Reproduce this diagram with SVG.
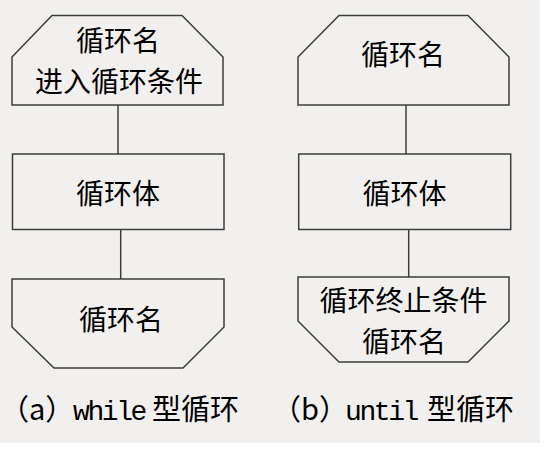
<svg xmlns="http://www.w3.org/2000/svg" width="550" height="458" viewBox="0 0 550 458">
<style>
.shape{fill:none;stroke:#3c3c3c;stroke-width:1.5;stroke-linejoin:miter}
.conn line{stroke:#3c3c3c;stroke-width:1.5}
.t{font-family:"Noto Sans CJK SC","Noto Sans CJK JP",sans-serif;font-size:28px;fill:#000;text-anchor:middle}
.cap{font-family:"Noto Sans CJK SC",sans-serif;font-size:29px;fill:#000}
.lat{font-family:"Liberation Mono","Noto Sans CJK SC",monospace;font-size:28px;letter-spacing:-2.4px}
.cj{letter-spacing:0}
</style>
<rect x="0" y="0" width="550" height="458" fill="#ffffff"/>
<rect x="0" y="0" width="540" height="443" fill="#f1f0ee"/>
<g class="conn">
<line x1="118" y1="105" x2="118" y2="154"/>
<line x1="120.7" y1="229.5" x2="120.7" y2="279"/>
<line x1="406" y1="105" x2="406" y2="154"/>
<line x1="408.7" y1="229.5" x2="408.7" y2="277"/>
</g>
<g id="a-top">
<polygon class="shape" points="52,15.5 182,15.5 223,57 223,105 12,105 12,57"/>
<text class="t"><tspan x="118" y="51">循环名</tspan><tspan x="119" y="92">进入循环条件</tspan></text>
</g>
<g id="a-body">
<rect class="shape" x="12.5" y="154" width="211.5" height="75.5"/>
<text class="t" x="118" y="204">循环体</text>
</g>
<g id="a-bottom">
<polygon class="shape" points="12,279 224,279 224,327 183,368 54,368 12,327"/>
<text class="t" x="121" y="330">循环名</text>
</g>
<g id="b-top">
<polygon class="shape" points="339,15.5 468,15.5 509,57 509,105 298,105 298,57"/>
<text class="t" x="403" y="65">循环名</text>
</g>
<g id="b-body">
<rect class="shape" x="298.7" y="154" width="212" height="75.5"/>
<text class="t" x="404.5" y="204">循环体</text>
</g>
<g id="b-bottom">
<polygon class="shape" points="298,277 509,277 509,321 468,362 339,362 298,321"/>
<text class="t"><tspan x="403.5" y="311">循环终止条件</tspan><tspan x="404" y="352">循环名</tspan></text>
</g>
<g id="caption-a">
<text class="cap" y="420"><tspan x="0">（a）</tspan><tspan class="lat" x="73">while</tspan><tspan class="cj" x="152">型循环</tspan></text>
</g>
<g id="caption-b">
<text class="cap" y="420"><tspan x="272">（b）</tspan><tspan class="lat" x="345">until</tspan><tspan class="cj" x="427">型循环</tspan></text>
</g>
</svg>
